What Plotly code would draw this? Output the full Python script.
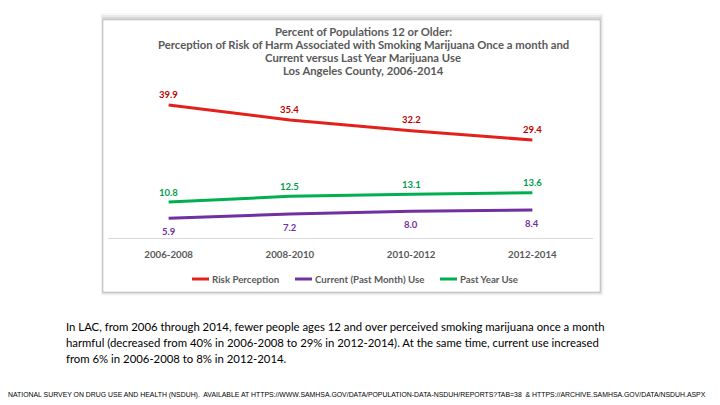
import plotly.graph_objects as go

# data
periods = ["2006-2008", "2008-2010", "2010-2012", "2012-2014"]
risk_perception = [39.9, 35.4, 32.2, 29.4]
current_use = [5.9, 7.2, 8.0, 8.4]
past_year_use = [10.8, 12.5, 13.1, 13.6]

# the page puts the figure 8px in from the window corner
OFF = 8
W, H = 720 - OFF, 405 - OFF
ML, MR, MT, MB = 100, 127, 80, 167


def px(x):
    return (x - OFF - ML) / (W - ML - MR)


def py(y):
    return (H - MB - (y - OFF)) / (H - MT - MB)


fig = go.Figure()

series = [
    ("Risk Perception", risk_perception, "#E3201B", "#C00000", 11),
    ("Current (Past Month) Use", current_use, "#7030A0", "#7030A0", -13),
    ("Past Year Use", past_year_use, "#00B050", "#00A04A", 10),
]
for name, vals, col, tcol, shift in series:
    fig.add_trace(go.Scatter(x=periods, y=vals, mode="lines", name=name,
                             line=dict(color=col, width=3), showlegend=False))
    for p, v in zip(periods, vals):
        fig.add_annotation(x=p, y=v, text=f"<b>{v:.1f}</b>", showarrow=False,
                           yshift=shift, font=dict(family="Lato", size=9.5, color=tcol))

# chart panel with a soft shadow (heavier along the top edge)
for off, alpha in [(7, 0.03), (5, 0.05), (3, 0.08)]:
    fig.add_shape(type="rect", xref="paper", yref="paper", layer="below",
                  x0=px(103 - off / 3), x1=px(600 + off / 2), y0=py(292 + off / 2), y1=py(20 - off),
                  line=dict(width=0), fillcolor=f"rgba(0,0,0,{alpha})")
fig.add_shape(type="rect", xref="paper", yref="paper", layer="below",
              x0=px(103), x1=px(600), y0=py(292), y1=py(20),
              line=dict(color="rgba(0,0,0,0.15)", width=1), fillcolor="white")

title_lines = [
    "Percent of Populations 12 or Older:",
    "Perception of Risk of Harm Associated with Smoking Marijuana Once a month and",
    "Current versus Last Year Marijuana Use",
    "Los Angeles County, 2006-2014",
]
for i, t in enumerate(title_lines):
    fig.add_annotation(x=px(363), y=py(31 + 13.3 * i), xref="paper", yref="paper",
                       text=f"<b>{t}</b>", showarrow=False, yanchor="middle",
                       font=dict(family="Lato", size=11.3, color="#595959"))

# legend drawn by hand so the keys stay short
legend_items = [(192, "Risk Perception", "#E3201B"),
                (295, "Current (Past Month) Use", "#7030A0"),
                (440, "Past Year Use", "#00B050")]
for x0, label, col in legend_items:
    fig.add_shape(type="line", xref="paper", yref="paper",
                  x0=px(x0), x1=px(x0 + 17), y0=py(279), y1=py(279),
                  line=dict(color=col, width=3))
    fig.add_annotation(x=px(x0 + 18), y=py(279), xref="paper", yref="paper",
                       text=f"<b>{label}</b>", showarrow=False, xanchor="left", yanchor="middle",
                       font=dict(family="Lato", size=9.7, color="#595959"))

body_lines = [
    "In LAC, from 2006 through 2014, fewer people ages 12 and over perceived smoking marijuana once a month",
    "harmful (decreased from 40% in 2006-2008 to 29% in 2012-2014). At the same time, current use increased",
    "from 6% in 2006-2008 to 8% in 2012-2014.",
]
for i, t in enumerate(body_lines):
    fig.add_annotation(x=px(64), y=py(326 + 16 * i), xref="paper", yref="paper", text=t,
                       showarrow=False, xanchor="left", yanchor="middle",
                       font=dict(family="Lato", size=11.35, color="#000000"))

footer = ("NATIONAL SURVEY ON DRUG USE AND HEALTH (NSDUH).  AVAILABLE AT "
          "HTTPS://WWW.SAMHSA.GOV/DATA/POPULATION-DATA-NSDUH/REPORTS?TAB=38  &amp; "
          "HTTPS://ARCHIVE.SAMHSA.GOV/DATA/NSDUH.ASPX")
fig.add_annotation(x=px(6), y=py(395), xref="paper", yref="paper", text=footer,
                   showarrow=False, xanchor="left", yanchor="middle",
                   font=dict(family="Liberation Sans", size=6.9, color="#000000"))

fig.update_layout(
    width=W, height=H,
    margin=dict(l=ML, r=MR, t=MT, b=MB),
    paper_bgcolor="white", plot_bgcolor="rgba(0,0,0,0)",
    showlegend=False,
    xaxis=dict(range=[-0.5, 3.5], showgrid=False, zeroline=False,
               showline=True, linecolor="#D9D9D9", linewidth=1, ticks="", ticklen=0,
               ticklabelstandoff=7,
               tickfont=dict(family="Lato", size=9.7, color="#595959", weight="bold")),
    yaxis=dict(range=[0, 45], visible=False),
)

fig.write_html("out.html")
